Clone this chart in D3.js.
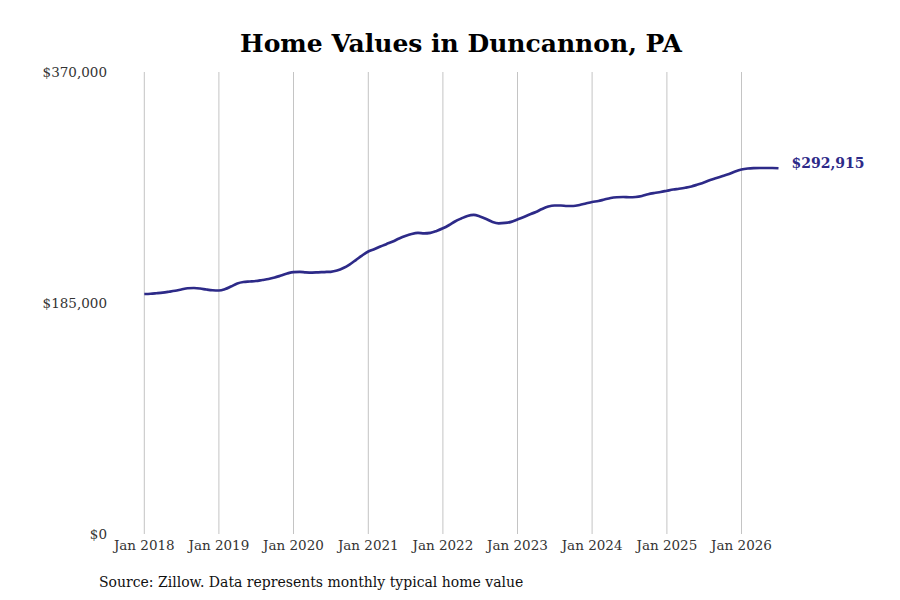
<!DOCTYPE html>
<html>
<head>
<meta charset="utf-8">
<script src="https://cdn.jsdelivr.net/npm/d3@7"></script>
<style>
  body { margin: 0; background: #fff; }
  svg { display: block; }
</style>
</head>
<body>
<svg id="chart" width="900" height="600"></svg>
<script>
// monthly typical home value, Jan 2018 .. Jul 2026
const startMonth = "2018-01";
const homeValues = [
  192200, 192400, 192800, 193300, 194000, 194800, 195800, 196800, 197000, 196600, 195800, 195200,
  195000, 196200, 198200, 200600, 201800, 202200, 202600, 203400, 204200, 205400, 207000, 208600,
  209800, 210000, 209600, 209400, 209600, 209800, 210000, 211000, 213000, 215800, 219400, 223000,
  226200, 228200, 230300, 232300, 234300, 236700, 238700, 240300, 241100, 240800, 241200, 242700,
  244800, 247500, 250300, 252700, 254700, 255500, 254300, 252300, 249900, 248800, 249100, 250000,
  251900, 253900, 255900, 257900, 260300, 262300, 263100, 263100, 262700, 262700, 263500, 264700,
  265900, 266700, 267900, 269100, 269700, 269900, 269700, 269900, 270700, 272100, 273100, 273900,
  274900, 275900, 276500, 277300, 278300, 279900, 281500, 283500, 285100, 286700, 288300, 290300,
  291900, 292700, 293000, 293100, 293100, 293100, 292915
];
const xTickYears = [2018, 2019, 2020, 2021, 2022, 2023, 2024, 2025, 2026];
const yTickValues = [0, 185000, 370000];
const titleText = "Home Values in Duncannon, PA";
const sourceText = "Source: Zillow. Data represents monthly typical home value";

const parseMonth = d3.timeParse("%Y-%m");
const t0 = parseMonth(startMonth);
const data = homeValues.map((v, i) => ({ date: d3.timeMonth.offset(t0, i), value: v }));

const svg = d3.select("#chart");
const font = "'DejaVu Serif', serif";
const lineColor = "#2d2a88";

const x = d3.scaleTime()
  .domain([new Date(2018, 0, 1), new Date(2026, 0, 1)])
  .range([144.3, 741.5]);
const y = d3.scaleLinear()
  .domain([0, 370000])
  .range([534, 72]);

// vertical grid lines at every January
svg.append("g")
  .selectAll("line")
  .data(xTickYears)
  .join("line")
  .attr("x1", d => x(new Date(d, 0, 1)))
  .attr("x2", d => x(new Date(d, 0, 1)))
  .attr("y1", y(370000))
  .attr("y2", y(0))
  .attr("stroke", "#c4c4c4")
  .attr("stroke-width", 1);

// x labels
svg.append("g")
  .selectAll("text")
  .data(xTickYears)
  .join("text")
  .attr("x", d => x(new Date(d, 0, 1)))
  .attr("y", 550)
  .attr("text-anchor", "middle")
  .attr("font-family", font)
  .attr("font-size", 13.5)
  .attr("fill", "#333")
  .text(d => "Jan " + d);

// y labels
const fmt = d => "$" + d3.format(",")(d);
svg.append("g")
  .selectAll("text")
  .data(yTickValues)
  .join("text")
  .attr("x", 107)
  .attr("y", d => y(d) + 5)
  .attr("text-anchor", "end")
  .attr("font-family", font)
  .attr("font-size", 13.5)
  .attr("fill", "#333")
  .text(fmt);

// the line
const line = d3.line()
  .x(d => x(d.date))
  .y(d => y(d.value))
  .curve(d3.curveMonotoneX);

svg.append("path")
  .datum(data)
  .attr("d", line)
  .attr("fill", "none")
  .attr("stroke", lineColor)
  .attr("stroke-width", 2.7)
  .attr("stroke-linejoin", "round");

// end label
const last = data[data.length - 1];
svg.append("text")
  .attr("x", x(last.date) + 13)
  .attr("y", y(last.value))
  .attr("font-family", font)
  .attr("font-size", 14)
  .attr("font-weight", "bold")
  .attr("fill", lineColor)
  .text(fmt(last.value));

// title
svg.append("text")
  .attr("x", 461)
  .attr("y", 52)
  .attr("text-anchor", "middle")
  .attr("font-family", font)
  .attr("font-size", 25)
  .attr("font-weight", "bold")
  .attr("fill", "#000")
  .text(titleText);

// source note
svg.append("text")
  .attr("x", 99)
  .attr("y", 587)
  .attr("font-family", font)
  .attr("font-size", 14)
  .attr("fill", "#111")
  .text(sourceText);
</script>
</body>
</html>
